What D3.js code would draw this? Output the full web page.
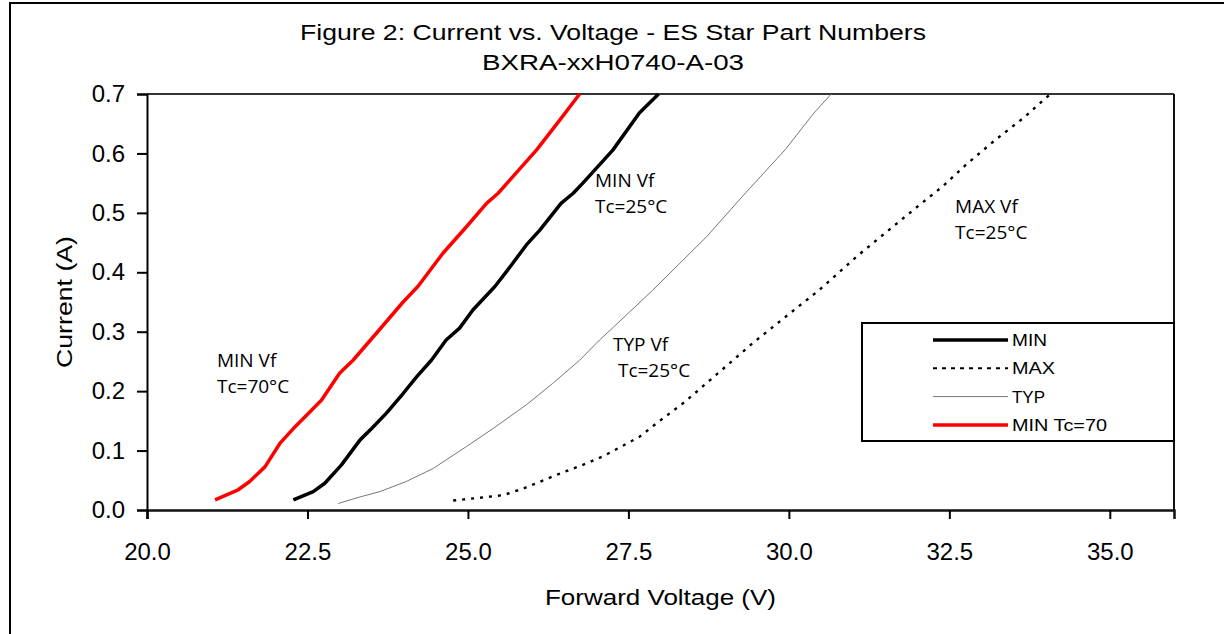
<!DOCTYPE html>
<html>
<head>
<meta charset="utf-8">
<script src="https://cdn.jsdelivr.net/npm/d3@7"></script>
<style>
  html, body { margin: 0; padding: 0; background: #fff; }
  svg { display: block; }
</style>
</head>
<body>
<svg id="chart" width="1224" height="634"></svg>
<script>
// ---------- data ----------
const titleLines = ["Figure 2: Current vs. Voltage - ES Star Part Numbers", "BXRA-xxH0740-A-03"];
const xTicks = [20.0, 22.5, 25.0, 27.5, 30.0, 32.5, 35.0];
const yTicks = [0.0, 0.1, 0.2, 0.3, 0.4, 0.5, 0.6, 0.7];

const minV = [22.28,22.59,22.77,23.03,23.32,23.50,23.73,23.99,24.20,24.43,24.66,24.87,25.08,25.42,25.60,25.91,26.12,26.45,26.64,26.79,27.26,27.67,27.97];
const minI = [0.017,0.031,0.045,0.076,0.118,0.137,0.163,0.196,0.224,0.252,0.286,0.306,0.337,0.376,0.401,0.446,0.471,0.516,0.533,0.550,0.606,0.668,0.700];

const maxV = [24.77,25.13,25.55,25.86,26.38,26.79,27.10,27.67,27.94,28.38,28.83,29.44,29.89,30.47,31.05,31.50,31.94,32.39,32.78,33.22,33.67,34.00,34.08];
const maxI = [0.016,0.020,0.025,0.036,0.059,0.076,0.090,0.123,0.146,0.182,0.224,0.281,0.320,0.370,0.426,0.466,0.505,0.544,0.583,0.623,0.661,0.693,0.700];

const typV = [22.98,23.32,23.63,24.04,24.46,24.98,25.39,25.91,26.32,26.74,27.05,27.27,27.88,28.72,29.27,29.94,30.39,30.66];
const typI = [0.011,0.022,0.031,0.048,0.070,0.107,0.137,0.177,0.213,0.252,0.286,0.308,0.370,0.460,0.527,0.606,0.668,0.700];

const hotV = [21.06,21.42,21.60,21.84,22.07,22.28,22.49,22.72,23.00,23.21,23.57,23.99,24.22,24.61,24.98,25.29,25.47,25.70,26.07,26.43,26.74];
const hotI = [0.017,0.034,0.048,0.073,0.112,0.137,0.160,0.185,0.230,0.252,0.297,0.350,0.376,0.432,0.477,0.516,0.533,0.561,0.606,0.656,0.700];

const seriesNames = ["MIN", "MAX", "TYP", "MIN Tc=70"];
const annotations = [
  ["MIN Vf", "Tc=70°C"],
  ["MIN Vf", "Tc=25°C"],
  ["TYP Vf", " Tc=25°C"],
  ["MAX Vf", "Tc=25°C"]
];
const annotationAt = [[21.09, 0.2406], [26.98, 0.5435], [27.26, 0.2675], [32.59, 0.4998]];

// ---------- layout / styles ----------
const W = 1224, H = 634;
const plot = { left: 147, right: 1174, top: 94, bottom: 510 };
const FONT = "Liberation Sans, Arial, sans-serif";
const titleWidths = [626, 262];
const legendWidths = [35, 43, 33, 95];
const styles = [
  { stroke: "#000", width: 3.5, dash: null },
  { stroke: "#000", width: 2.4, dash: "3,6" },
  { stroke: "#777", width: 1, dash: null },
  { stroke: "#ff0000", width: 3.5, dash: null }
];

const svg = d3.select("#chart");

// outer frame
svg.append("line").attr("x1", 9).attr("x2", W).attr("y1", 3).attr("y2", 3)
  .attr("stroke", "#000").attr("stroke-width", 2);
svg.append("line").attr("x1", 10).attr("x2", 10).attr("y1", 3).attr("y2", H)
  .attr("stroke", "#000").attr("stroke-width", 2);

const x = d3.scaleLinear().domain([20, 36]).range([plot.left, plot.right]);
const y = d3.scaleLinear().domain([0, 0.7]).range([plot.bottom, plot.top]);

// title
svg.append("g").selectAll("text").data(titleLines).join("text")
  .attr("x", 613).attr("y", (d, i) => 40 + i * 30)
  .attr("text-anchor", "middle")
  .attr("font-family", FONT)
  .attr("font-size", 22).attr("fill", "#000")
  .attr("textLength", (d, i) => titleWidths[i])
  .attr("lengthAdjust", "spacingAndGlyphs")
  .text(d => d);

// plot frame (top & right)
svg.append("line").attr("x1", plot.left).attr("x2", plot.right).attr("y1", plot.top).attr("y2", plot.top)
  .attr("stroke", "#333").attr("stroke-width", 2);
svg.append("line").attr("x1", plot.right).attr("x2", plot.right).attr("y1", plot.top).attr("y2", plot.bottom)
  .attr("stroke", "#111").attr("stroke-width", 2);

// axes
const xAxis = d3.axisBottom(x).tickValues(xTicks).tickFormat(d3.format(".1f")).tickSizeOuter(0).tickSize(9).tickPadding(24);
const gx = svg.append("g").attr("transform", `translate(0,${plot.bottom})`).call(xAxis);
gx.select(".domain").attr("stroke", "#111").attr("stroke-width", 2.5);
gx.selectAll(".tick line").attr("stroke", "#000").attr("stroke-width", 2);
gx.selectAll(".tick text").attr("font-family", FONT).attr("font-size", 24).attr("fill", "#000");

const yAxis = d3.axisLeft(y).tickValues(yTicks).tickFormat(d3.format(".1f")).tickSizeOuter(0).tickSize(10).tickPadding(12);
const gy = svg.append("g").attr("transform", `translate(${plot.left},0)`).call(yAxis);
gy.select(".domain").attr("stroke", "#000").attr("stroke-width", 2);
gy.selectAll(".tick line").attr("stroke", "#000").attr("stroke-width", 2);
gy.selectAll(".tick text").attr("font-family", FONT).attr("font-size", 24).attr("fill", "#000");

// axis titles
svg.append("text").attr("x", (plot.left + plot.right) / 2).attr("y", 605)
  .attr("text-anchor", "middle")
  .attr("font-family", FONT).attr("font-size", 22)
  .attr("textLength", 231).attr("lengthAdjust", "spacingAndGlyphs")
  .text("Forward Voltage (V)");
svg.append("text").attr("transform", `translate(72,${(plot.top + plot.bottom) / 2}) rotate(-90)`)
  .attr("text-anchor", "middle")
  .attr("font-family", FONT).attr("font-size", 22)
  .attr("textLength", 132).attr("lengthAdjust", "spacingAndGlyphs")
  .text("Current (A)");

// series
const seriesData = [
  d3.zip(minV, minI),
  d3.zip(maxV, maxI),
  d3.zip(typV, typI),
  d3.zip(hotV, hotI)
];
const line = d3.line().x(d => x(d[0])).y(d => y(d[1]));
const order = [2, 1, 0, 3];
svg.append("g").selectAll("path").data(order).join("path")
  .attr("d", i => line(seriesData[i]))
  .attr("fill", "none")
  .attr("stroke", i => styles[i].stroke)
  .attr("stroke-width", i => styles[i].width)
  .attr("stroke-dasharray", i => styles[i].dash)
  .attr("stroke-linejoin", "round");

// annotations
const ann = svg.append("g");
annotations.forEach((lines, k) => {
  const t = ann.append("text")
    .attr("x", x(annotationAt[k][0])).attr("y", y(annotationAt[k][1]))
    .attr("font-family", "Open Sans, sans-serif").attr("font-size", 19).attr("fill", "#000");
  lines.forEach((s, j) => {
    t.append("tspan").attr("x", x(annotationAt[k][0])).attr("dy", j === 0 ? 0 : 26)
      .attr("xml:space", "preserve").style("white-space", "pre").text(s);
  });
});

// legend
const leg = { left: 862, top: 323, right: plot.right, bottom: 441 };
svg.append("rect").attr("x", leg.left).attr("y", leg.top)
  .attr("width", leg.right - leg.left).attr("height", leg.bottom - leg.top)
  .attr("fill", "#fff").attr("stroke", "#000").attr("stroke-width", 2);
const legRows = svg.append("g").selectAll("g").data(seriesNames).join("g")
  .attr("transform", (d, i) => `translate(0,${340 + i * 28.3})`);
legRows.append("line").attr("x1", 933).attr("x2", 1008).attr("y1", 0).attr("y2", 0)
  .attr("stroke", (d, i) => styles[i].stroke)
  .attr("stroke-width", (d, i) => i === 1 ? 2 : styles[i].width)
  .attr("stroke-dasharray", (d, i) => i === 1 ? "4,5" : null);
legRows.append("text").attr("x", 1012).attr("y", 0).attr("dy", "0.35em")
  .attr("font-family", FONT).attr("font-size", 17)
  .attr("textLength", (d, i) => legendWidths[i]).attr("lengthAdjust", "spacingAndGlyphs")
  .text(d => d);
</script>
</body>
</html>
